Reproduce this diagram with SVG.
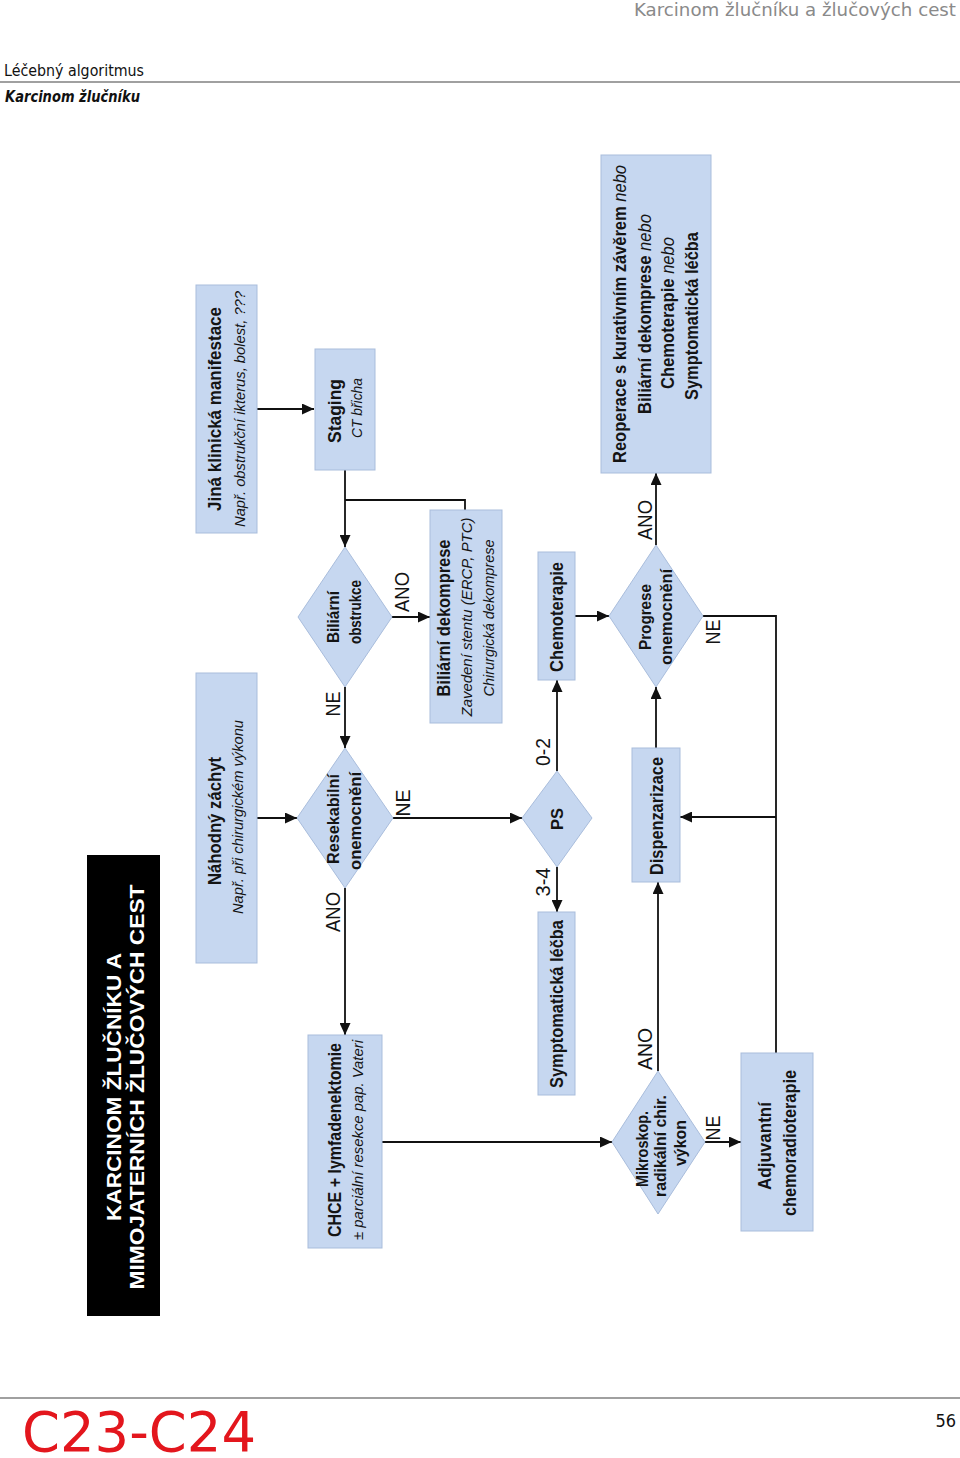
<svg xmlns="http://www.w3.org/2000/svg" width="960" height="1458" viewBox="0 0 960 1458">
<style>
.hdr{font-family:"DejaVu Sans Condensed","DejaVu Sans",sans-serif}
.box{fill:#c6d7f0;stroke:#a9bddc;stroke-width:1}
.t{font-family:"Liberation Sans Narrow","Liberation Sans",Arial,sans-serif;fill:#141414;text-anchor:middle}
.b{font-weight:bold;font-size:18px}
.d{font-weight:bold;font-size:17px}
.i{font-style:italic;font-size:15px}
.n{font-weight:normal;font-style:italic}
.lab{font-size:20px}
.ttl{font-family:"Liberation Sans",Arial,sans-serif;font-weight:bold;font-size:20px;fill:#fff;text-anchor:middle}
.c{fill:none;stroke:#111;stroke-width:1.8}
</style>
<defs>
<marker id="ah" markerUnits="userSpaceOnUse" markerWidth="13" markerHeight="11" refX="12" refY="5.5" orient="auto">
<path d="M0,0 L12,5.5 L0,11 z" fill="#111"/>
</marker>
</defs>
<rect width="960" height="1458" fill="#fff"/>
<g id="header">
<text class="hdr" x="956" y="16" font-size="18" fill="#8a8a8a" text-anchor="end" textLength="322" lengthAdjust="spacingAndGlyphs">Karcinom žlučníku a žlučových cest</text>
<text class="hdr" x="4" y="76" font-size="15" fill="#111" textLength="140" lengthAdjust="spacingAndGlyphs">Léčebný algoritmus</text>
<line x1="0" y1="82" x2="960" y2="82" stroke="#a0a0a0" stroke-width="2"/>
<text class="hdr" x="5" y="102" font-size="15" font-weight="bold" font-style="italic" fill="#111" textLength="135" lengthAdjust="spacingAndGlyphs">Karcinom žlučníku</text>
</g>
<g id="footer">
<line x1="0" y1="1398" x2="960" y2="1398" stroke="#a0a0a0" stroke-width="2"/>
<text class="hdr" x="22" y="1451" font-size="56" fill="#e3161d" textLength="234" lengthAdjust="spacingAndGlyphs">C23-C24</text>
<text class="hdr" x="956" y="1427" font-size="18" fill="#111" text-anchor="end">56</text>
</g>
<g id="connectors">
<path class="c" d="M257,409 H314" marker-end="url(#ah)"/>
<path class="c" d="M257,818 H297" marker-end="url(#ah)"/>
<path class="c" d="M345,470 V547" marker-end="url(#ah)"/>
<path class="c" d="M345,500 H465 V510"/>
<path class="c" d="M392,617 H430" marker-end="url(#ah)"/>
<path class="c" d="M345,687 V748" marker-end="url(#ah)"/>
<path class="c" d="M345,888 V1035" marker-end="url(#ah)"/>
<path class="c" d="M393,818 H522" marker-end="url(#ah)"/>
<path class="c" d="M557,771 V680" marker-end="url(#ah)"/>
<path class="c" d="M557,867 V912" marker-end="url(#ah)"/>
<path class="c" d="M575,616 H609" marker-end="url(#ah)"/>
<path class="c" d="M656,545 V473" marker-end="url(#ah)"/>
<path class="c" d="M703,616 H776 V1053"/>
<path class="c" d="M776,817 H680" marker-end="url(#ah)"/>
<path class="c" d="M656,748 V687" marker-end="url(#ah)"/>
<path class="c" d="M382,1142 H612" marker-end="url(#ah)"/>
<path class="c" d="M658,1071 V882" marker-end="url(#ah)"/>
<path class="c" d="M705,1142 H741" marker-end="url(#ah)"/>
<g class="t lab">
<text transform="translate(409,592) rotate(-90)" textLength="40" lengthAdjust="spacingAndGlyphs">ANO</text>
<text transform="translate(340,704) rotate(-90)" textLength="25" lengthAdjust="spacingAndGlyphs">NE</text>
<text transform="translate(340,912) rotate(-90)" textLength="40" lengthAdjust="spacingAndGlyphs">ANO</text>
<text transform="translate(410,803) rotate(-90)" textLength="27" lengthAdjust="spacingAndGlyphs">NE</text>
<text transform="translate(550,752) rotate(-90)" textLength="28" lengthAdjust="spacingAndGlyphs">0-2</text>
<text transform="translate(550,882) rotate(-90)" textLength="29" lengthAdjust="spacingAndGlyphs">3-4</text>
<text transform="translate(652,520) rotate(-90)" textLength="40" lengthAdjust="spacingAndGlyphs">ANO</text>
<text transform="translate(720,632) rotate(-90)" textLength="25" lengthAdjust="spacingAndGlyphs">NE</text>
<text transform="translate(652,1049) rotate(-90)" textLength="42" lengthAdjust="spacingAndGlyphs">ANO</text>
<text transform="translate(720,1128) rotate(-90)" textLength="25" lengthAdjust="spacingAndGlyphs">NE</text>
</g>
</g>
<g id="n-title">
<rect x="87" y="855" width="73" height="461" fill="#000"/>
<text class="ttl" transform="translate(121,1087) rotate(-90)" textLength="268" lengthAdjust="spacingAndGlyphs">KARCINOM ŽLUČNÍKU A</text>
<text class="ttl" transform="translate(144,1087) rotate(-90)" textLength="405" lengthAdjust="spacingAndGlyphs">MIMOJATERNÍCH ŽLUČOVÝCH CEST</text>
</g>
<g id="n-jina">
<rect class="box" x="196" y="285" width="61" height="248"/>
<text class="t b" transform="translate(221,409) rotate(-90)" textLength="204" lengthAdjust="spacingAndGlyphs">Jiná klinická manifestace</text>
<text class="t i" transform="translate(245,409) rotate(-90)" textLength="236" lengthAdjust="spacingAndGlyphs">Např. obstrukční ikterus, bolest, ???</text>
</g>
<g id="n-nahodny">
<rect class="box" x="196" y="673" width="61" height="290"/>
<text class="t b" transform="translate(221,821) rotate(-90)" textLength="128" lengthAdjust="spacingAndGlyphs">Náhodný záchyt</text>
<text class="t i" transform="translate(243,817) rotate(-90)" textLength="194" lengthAdjust="spacingAndGlyphs">Např. při chirurgickém výkonu</text>
</g>
<g id="n-staging">
<rect class="box" x="315" y="349" width="60" height="121"/>
<text class="t b" transform="translate(341,411) rotate(-90)" textLength="64" lengthAdjust="spacingAndGlyphs">Staging</text>
<text class="t i" transform="translate(362,408) rotate(-90)" textLength="60" lengthAdjust="spacingAndGlyphs">CT břicha</text>
</g>
<g id="n-biliarni-obstrukce">
<polygon class="box" points="345,547 392,617 345,687 298,617"/>
<text class="t d" transform="translate(339,617) rotate(-90)" textLength="52" lengthAdjust="spacingAndGlyphs">Biliární</text>
<text class="t d" transform="translate(361,612) rotate(-90)" textLength="64" lengthAdjust="spacingAndGlyphs">obstrukce</text>
</g>
<g id="n-resekabilni">
<polygon class="box" points="345,748 393,818 345,888 297,818"/>
<text class="t d" transform="translate(339,819) rotate(-90)" textLength="90" lengthAdjust="spacingAndGlyphs">Resekabilní</text>
<text class="t d" transform="translate(361,821) rotate(-90)" textLength="98" lengthAdjust="spacingAndGlyphs">onemocnění</text>
</g>
<g id="n-chce">
<rect class="box" x="308" y="1035" width="74" height="213"/>
<text class="t b" transform="translate(341,1140) rotate(-90)" textLength="194" lengthAdjust="spacingAndGlyphs">CHCE + lymfadenektomie</text>
<text class="t i" transform="translate(363,1140) rotate(-90)" textLength="200" lengthAdjust="spacingAndGlyphs">± parciální resekce pap. Vateri</text>
</g>
<g id="n-biliarni-dekomprese">
<rect class="box" x="430" y="510" width="72" height="213"/>
<text class="t b" transform="translate(450,618) rotate(-90)" textLength="157" lengthAdjust="spacingAndGlyphs">Biliární dekomprese</text>
<text class="t i" transform="translate(472,617) rotate(-90)" textLength="199" lengthAdjust="spacingAndGlyphs">Zavedení stentu (ERCP, PTC)</text>
<text class="t i" transform="translate(494,618) rotate(-90)" textLength="157" lengthAdjust="spacingAndGlyphs">Chirurgická dekomprese</text>
</g>
<g id="n-ps">
<polygon class="box" points="557,771 592,818 557,867 522,818"/>
<text class="t d" transform="translate(563,819) rotate(-90)" textLength="22" lengthAdjust="spacingAndGlyphs">PS</text>
</g>
<g id="n-chemoterapie">
<rect class="box" x="538" y="552" width="37" height="128"/>
<text class="t b" transform="translate(563,617) rotate(-90)" textLength="110" lengthAdjust="spacingAndGlyphs">Chemoterapie</text>
</g>
<g id="n-symptomaticka">
<rect class="box" x="538" y="912" width="37" height="183"/>
<text class="t b" transform="translate(563,1004) rotate(-90)" textLength="168" lengthAdjust="spacingAndGlyphs">Symptomatická léčba</text>
</g>
<g id="n-progrese">
<polygon class="box" points="656,545 703,616 656,687 609,616"/>
<text class="t d" transform="translate(651,617) rotate(-90)" textLength="66" lengthAdjust="spacingAndGlyphs">Progrese</text>
<text class="t d" transform="translate(672,617) rotate(-90)" textLength="96" lengthAdjust="spacingAndGlyphs">onemocnění</text>
</g>
<g id="n-reoperace">
<rect class="box" x="601" y="155" width="110" height="318"/>
<text class="t b" transform="translate(626,314) rotate(-90)" textLength="298" lengthAdjust="spacingAndGlyphs">Reoperace s kurativním závěrem <tspan class="n">nebo</tspan></text>
<text class="t b" transform="translate(651,314) rotate(-90)" textLength="200" lengthAdjust="spacingAndGlyphs">Biliární dekomprese <tspan class="n">nebo</tspan></text>
<text class="t b" transform="translate(674,313) rotate(-90)" textLength="152" lengthAdjust="spacingAndGlyphs">Chemoterapie <tspan class="n">nebo</tspan></text>
<text class="t b" transform="translate(698,316) rotate(-90)" textLength="168" lengthAdjust="spacingAndGlyphs">Symptomatická léčba</text>
</g>
<g id="n-dispenzarizace">
<rect class="box" x="632" y="748" width="48" height="134"/>
<text class="t b" transform="translate(663,816) rotate(-90)" textLength="118" lengthAdjust="spacingAndGlyphs">Dispenzarizace</text>
</g>
<g id="n-mikroskop">
<polygon class="box" points="658,1071 705,1142 658,1214 612,1142"/>
<text class="t d" transform="translate(648,1149) rotate(-90)" textLength="76" lengthAdjust="spacingAndGlyphs">Mikroskop.</text>
<text class="t d" transform="translate(666,1146) rotate(-90)" textLength="102" lengthAdjust="spacingAndGlyphs">radikální chir.</text>
<text class="t d" transform="translate(686,1143) rotate(-90)" textLength="46" lengthAdjust="spacingAndGlyphs">výkon</text>
</g>
<g id="n-adjuvantni">
<rect class="box" x="741" y="1053" width="72" height="178"/>
<text class="t b" transform="translate(771,1146) rotate(-90)" textLength="88" lengthAdjust="spacingAndGlyphs">Adjuvantní</text>
<text class="t b" transform="translate(796,1143) rotate(-90)" textLength="146" lengthAdjust="spacingAndGlyphs">chemoradioterapie</text>
</g>
</svg>
